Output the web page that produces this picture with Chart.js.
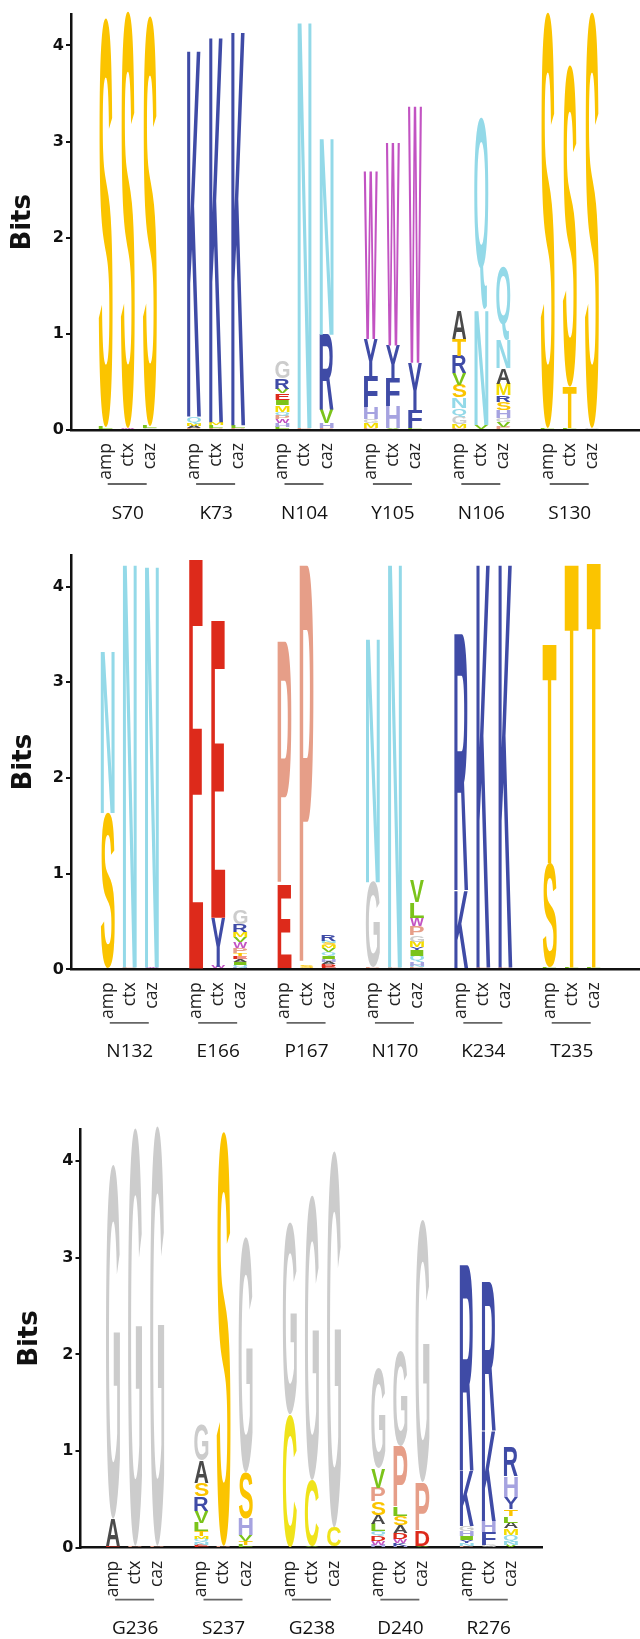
<!DOCTYPE html>
<html>
<head>
<meta charset="utf-8">
<script src="https://cdn.jsdelivr.net/npm/chart.js@4.4.0/dist/chart.umd.min.js"></script>
<style>
html, body { margin: 0; padding: 0; background: #fff; }
body { width: 640px; height: 1639px; position: relative; overflow: hidden; }
canvas { position: absolute; left: 0; }
</style>
</head>
<body>
<canvas id="logo1" width="640" height="540" style="top:0px"></canvas>
<canvas id="logo2" width="640" height="545" style="top:540px"></canvas>
<canvas id="logo3" width="640" height="554" style="top:1085px"></canvas>
<script>
// Column names inside every position, and the y ticks
const conditions = ['amp', 'ctx', 'caz'];
const bitTicks = [0, 1, 2, 3, 4];

// Each position: three columns (amp, ctx, caz), letters stacked bottom -> top as [letter, bits]
const S70 = [
    [['L', 0.03], ['S', 4.26]],
    [['W', 0.02], ['S', 4.34]],
    [['G', 0.02], ['L', 0.02], ['S', 4.27]]
];
const K73 = [
    [['P', 0.02], ['A', 0.02], ['M', 0.03], ['Q', 0.07], ['K', 3.86]],
    [['P', 0.02], ['L', 0.03], ['M', 0.03], ['K', 4.06]],
    [['P', 0.02], ['L', 0.03], ['K', 4.15]]
];
const N104 = [
    [['L', 0.03], ['H', 0.04], ['W', 0.04], ['P', 0.04], ['Q', 0.04], ['M', 0.07], ['I', 0.05], ['E', 0.07], ['V', 0.05], ['R', 0.11], ['G', 0.18]],
    [['P', 0.02], ['N', 4.28]],
    [['P', 0.02], ['H', 0.05], ['V', 0.14], ['R', 0.78], ['N', 2.07]]
];
const Y105 = [
    [['P', 0.02], ['M', 0.05], ['G', 0.04], ['H', 0.12], ['F', 0.32], ['Y', 0.40], ['W', 1.75]],
    [['V', 0.02], ['H', 0.23], ['F', 0.29], ['Y', 0.34], ['W', 2.11]],
    [['L', 0.02], ['F', 0.19], ['Y', 0.49], ['W', 2.67]]
];
const N106 = [
    [['P', 0.02], ['M', 0.04], ['G', 0.08], ['Q', 0.09], ['N', 0.11], ['S', 0.13], ['V', 0.12], ['R', 0.18], ['T', 0.18], ['A', 0.29]],
    [['V', 0.05], ['N', 1.20], ['Q', 1.99]],
    [['P', 0.03], ['V', 0.05], ['G', 0.045], ['H', 0.085], ['S', 0.08], ['R', 0.07], ['M', 0.12], ['A', 0.16], ['N', 0.29], ['Q', 0.77]]
];
const S130 = [
    [['L', 0.02], ['S', 4.33]],
    [['L', 0.02], ['T', 0.43], ['S', 3.35]],
    [['G', 0.02], ['S', 4.33]]
];

const N132 = [
    [['L', 0.01], ['S', 1.62], ['N', 1.71]],
    [['P', 0.02], ['N', 4.27]],
    [['W', 0.02], ['N', 4.25]]
];
const E166 = [
    [['R', 0.01], ['E', 4.28]],
    [['W', 0.03], ['Y', 0.51], ['E', 3.11]],
    [['H', 0.02], ['Q', 0.03], ['I', 0.03], ['A', 0.03], ['E', 0.03], ['T', 0.03], ['P', 0.05], ['W', 0.07], ['V', 0.05], ['M', 0.05], ['R', 0.08], ['G', 0.15]]
];
const P167 = [
    [['V', 0.01], ['E', 0.87], ['P', 2.55]],
    [['S', 0.03], ['P', 4.20]],
    [['E', 0.03], ['D', 0.03], ['A', 0.02], ['H', 0.03], ['I', 0.03], ['Q', 0.04], ['V', 0.04], ['M', 0.03], ['S', 0.03], ['N', 0.02], ['R', 0.07]]
];
const N170 = [
    [['P', 0.02], ['G', 0.89], ['N', 2.58]],
    [['P', 0.02], ['N', 4.27]],
    [['P', 0.02], ['N', 0.02], ['H', 0.04], ['Q', 0.06], ['I', 0.06], ['Y', 0.03], ['M', 0.06], ['G', 0.07], ['P', 0.09], ['W', 0.09], ['L', 0.16], ['V', 0.23]]
];
const K234 = [
    [['P', 0.01], ['K', 0.82], ['R', 2.68]],
    [['P', 0.02], ['K', 4.27]],
    [['P', 0.02], ['K', 4.27]]
];
const T235 = [
    [['L', 0.02], ['S', 1.09], ['T', 2.32]],
    [['L', 0.02], ['T', 4.27]],
    [['L', 0.02], ['T', 4.29]]
];

const G236 = [
    [['E', 0.02], ['A', 0.28], ['G', 3.67]],
    [['P', 0.02], ['G', 4.33]],
    [['P', 0.02], ['G', 4.35]]
];
const S237 = [
    [['E', 0.03], ['N', 0.03], ['Q', 0.03], ['M', 0.03], ['T', 0.05], ['L', 0.09], ['V', 0.12], ['R', 0.15], ['S', 0.14], ['A', 0.23], ['G', 0.37]],
    [['P', 0.02], ['S', 4.29]],
    [['L', 0.03], ['T', 0.04], ['V', 0.06], ['H', 0.17], ['S', 0.48], ['G', 2.44]]
];
const G238 = [
    [['P', 0.01], ['C', 1.37], ['G', 1.99]],
    [['V', 0.02], ['C', 0.68], ['G', 2.95]],
    [['V', 0.01], ['C', 0.20], ['G', 3.90]]
];
const D240 = [
    [['H', 0.03], ['W', 0.04], ['D', 0.05], ['Q', 0.05], ['L', 0.08], ['A', 0.09], ['S', 0.14], ['P', 0.14], ['V', 0.20], ['G', 1.03]],
    [['H', 0.02], ['K', 0.03], ['W', 0.04], ['D', 0.06], ['A', 0.08], ['S', 0.10], ['L', 0.09], ['P', 0.63], ['G', 0.98]],
    [['V', 0.02], ['D', 0.16], ['P', 0.50], ['G', 2.72]]
];
const R276 = [
    [['P', 0.02], ['N', 0.03], ['Y', 0.03], ['I', 0.04], ['H', 0.05], ['G', 0.05], ['K', 0.58], ['R', 2.13]],
    [['G', 0.03], ['F', 0.13], ['H', 0.12], ['K', 0.94], ['R', 1.54]],
    [['V', 0.03], ['N', 0.04], ['Q', 0.06], ['M', 0.07], ['A', 0.06], ['L', 0.07], ['T', 0.07], ['Y', 0.12], ['H', 0.22], ['R', 0.31]]
];

const panel1Groups = ['S70', 'K73', 'N104', 'Y105', 'N106', 'S130'];
const panel1Stacks = [S70, K73, N104, Y105, N106, S130];
const panel2Groups = ['N132', 'E166', 'P167', 'N170', 'K234', 'T235'];
const panel2Stacks = [N132, E166, P167, N170, K234, T235];
const panel3Groups = ['G236', 'S237', 'G238', 'D240', 'R276'];
const panel3Stacks = [G236, S237, G238, D240, R276];

const letterColors = {
    S: '#FBC400', T: '#FBC400', K: '#3F4BA6', R: '#3F4BA6', Y: '#3F4BA6', F: '#3F4BA6',
    N: '#93D9E8', Q: '#93D9E8', W: '#C253C2', H: '#A6A3E0', G: '#CCCCCC', A: '#4A4A4A',
    V: '#7BC31A', L: '#7BC31A', I: '#7BC31A', M: '#F4DC00', C: '#F0E31A',
    E: '#DD2A1B', D: '#DD2A1B', P: '#E69E88'
};

const LETTER_FONT = 'bold 100px "Liberation Sans", Arial, sans-serif';
const glyphCache = {};

function drawLetter(ctx, ch, left, top, w, h) {
    if (!(h > 0.2)) return;
    ctx.save();
    ctx.font = LETTER_FONT;
    let m = glyphCache[ch];
    if (!m) {
        const t = ctx.measureText(ch);
        m = glyphCache[ch] = {
            l: t.actualBoundingBoxLeft, r: t.actualBoundingBoxRight,
            a: t.actualBoundingBoxAscent, d: t.actualBoundingBoxDescent
        };
    }
    ctx.translate(left, top);
    ctx.scale(w / (m.l + m.r), h / (m.a + m.d));
    ctx.fillStyle = letterColors[ch] || '#888';
    ctx.textAlign = 'left';
    ctx.textBaseline = 'alphabetic';
    ctx.fillText(ch, m.l, m.a);
    ctx.restore();
}

// draws each stacked bar as a stretched letter
const logoLetters = {
    id: 'logoLetters',
    afterDatasetsDraw(chart) {
        const ctx = chart.ctx;
        chart.data.datasets.forEach(function(ds, i) {
            const meta = chart.getDatasetMeta(i);
            meta.data.forEach(function(bar, j) {
                const ch = ds.letters[j];
                if (!ch) return;
                const p = bar.getProps(['x', 'y', 'base', 'width'], true);
                drawLetter(ctx, ch, p.x - p.width / 2, p.y, p.width, p.base - p.y);
            });
        });
    }
};

// group line + position name under the three columns
const groupLabels = {
    id: 'groupLabels',
    afterDraw(chart, args, opts) {
        const ctx = chart.ctx;
        const xs = chart.scales.x;
        const bottom = chart.chartArea.bottom;
        ctx.save();
        opts.names.forEach(function(name, g) {
            const cx = xs.getPixelForValue(g * 4 + 1);
            ctx.strokeStyle = '#666';
            ctx.lineWidth = 1.8;
            ctx.beginPath();
            ctx.moveTo(cx - 20, bottom + opts.lineGap);
            ctx.lineTo(cx + 19, bottom + opts.lineGap);
            ctx.stroke();
            ctx.fillStyle = '#111';
            ctx.font = '19px "Open Sans", sans-serif';
            ctx.textAlign = 'center';
            ctx.textBaseline = 'middle';
            ctx.fillText(name, cx, bottom + opts.textGap);
        });
        ctx.restore();
    }
};

function buildDatasets(stacks) {
    const layers = Math.max.apply(null, stacks.map(function(grp) {
        return Math.max.apply(null, grp.map(function(col) { return col.length; }));
    }));
    const datasets = [];
    for (let k = 0; k < layers; k++) {
        const data = [];
        const letters = [];
        stacks.forEach(function(grp, g) {
            grp.forEach(function(col, c) {
                const item = col[k];
                data.push({ x: g * 4 + c, y: item ? item[1] : null });
                letters.push(item ? item[0] : null);
            });
        });
        datasets.push({
            data: data,
            letters: letters,
            backgroundColor: 'rgba(0,0,0,0)',
            borderWidth: 0,
            barThickness: 14
        });
    }
    return datasets;
}

function makeLogo(id, groups, stacks, cfg) {
    const tickPositions = [];
    groups.forEach(function(n, g) {
        conditions.forEach(function(c, i) { tickPositions.push(g * 4 + i); });
    });
    new Chart(document.getElementById(id), {
        type: 'bar',
        data: { datasets: buildDatasets(stacks) },
        plugins: [logoLetters, groupLabels],
        options: {
            responsive: false,
            animation: false,
            events: [],
            layout: { padding: { top: cfg.top, right: cfg.right, left: 0, bottom: 0 } },
            plugins: {
                legend: { display: false },
                tooltip: { enabled: false },
                groupLabels: { names: groups, lineGap: cfg.lineGap, textGap: cfg.textGap }
            },
            scales: {
                x: {
                    type: 'linear',
                    stacked: true,
                    offset: false,
                    min: cfg.xMin,
                    max: cfg.xMax,
                    grid: { display: false, drawTicks: false, offset: false },
                    border: { display: true, color: '#111', width: 2.5 },
                    afterBuildTicks: function(scale) {
                        scale.ticks = tickPositions.map(function(v) { return { value: v }; });
                    },
                    afterFit: function(scale) {
                        scale.height = cfg.xHeight;
                        scale.paddingLeft = 0;
                        scale.paddingRight = 0;
                    },
                    ticks: {
                        autoSkip: false,
                        minRotation: 90,
                        maxRotation: 90,
                        padding: 13,
                        color: '#222',
                        font: { family: '"Open Sans", sans-serif', size: 17.5 },
                        callback: function(value) { return conditions[value % 4]; }
                    }
                },
                y: {
                    stacked: true,
                    min: 0,
                    max: cfg.yMax,
                    afterFit: function(scale) { scale.width = cfg.left; },
                    afterBuildTicks: function(scale) {
                        scale.ticks = bitTicks.map(function(v) { return { value: v }; });
                    },
                    grid: {
                        drawOnChartArea: false,
                        drawTicks: true,
                        tickLength: 5,
                        lineWidth: 2,
                        color: '#111'
                    },
                    border: { display: true, color: '#111', width: 2.5 },
                    ticks: {
                        padding: 2,
                        color: '#111',
                        font: { family: '"DejaVu Sans", sans-serif', size: 16, weight: 'bold' }
                    },
                    title: {
                        display: true,
                        text: 'Bits',
                        color: '#111',
                        padding: { top: cfg.titlePad, bottom: 0 },
                        font: { family: '"DejaVu Sans", sans-serif', size: 26, weight: 'bold' }
                    }
                }
            }
        }
    });
}

makeLogo('logo1', panel1Groups, panel1Stacks,
    { top: 14.6, right: 0, left: 71, xMin: -1.566, xMax: 24.18, yMax: 4.32, xHeight: 110,
      titlePad: 7.5, lineGap: 54, textGap: 84 });
makeLogo('logo2', panel2Groups, panel2Stacks,
    { top: 15, right: 0, left: 71, xMin: -1.66, xMax: 24.09, yMax: 4.33, xHeight: 115.6,
      titlePad: 9, lineGap: 53.5, textGap: 82 });
makeLogo('logo3', panel3Groups, panel3Stacks,
    { top: 44.4, right: 97.3, left: 80.5, xMin: -1.47, xMax: 19.44, yMax: 4.33, xHeight: 91.3,
      titlePad: 14.7, lineGap: 52, textGap: 80.5 });
</script>
</body>
</html>
